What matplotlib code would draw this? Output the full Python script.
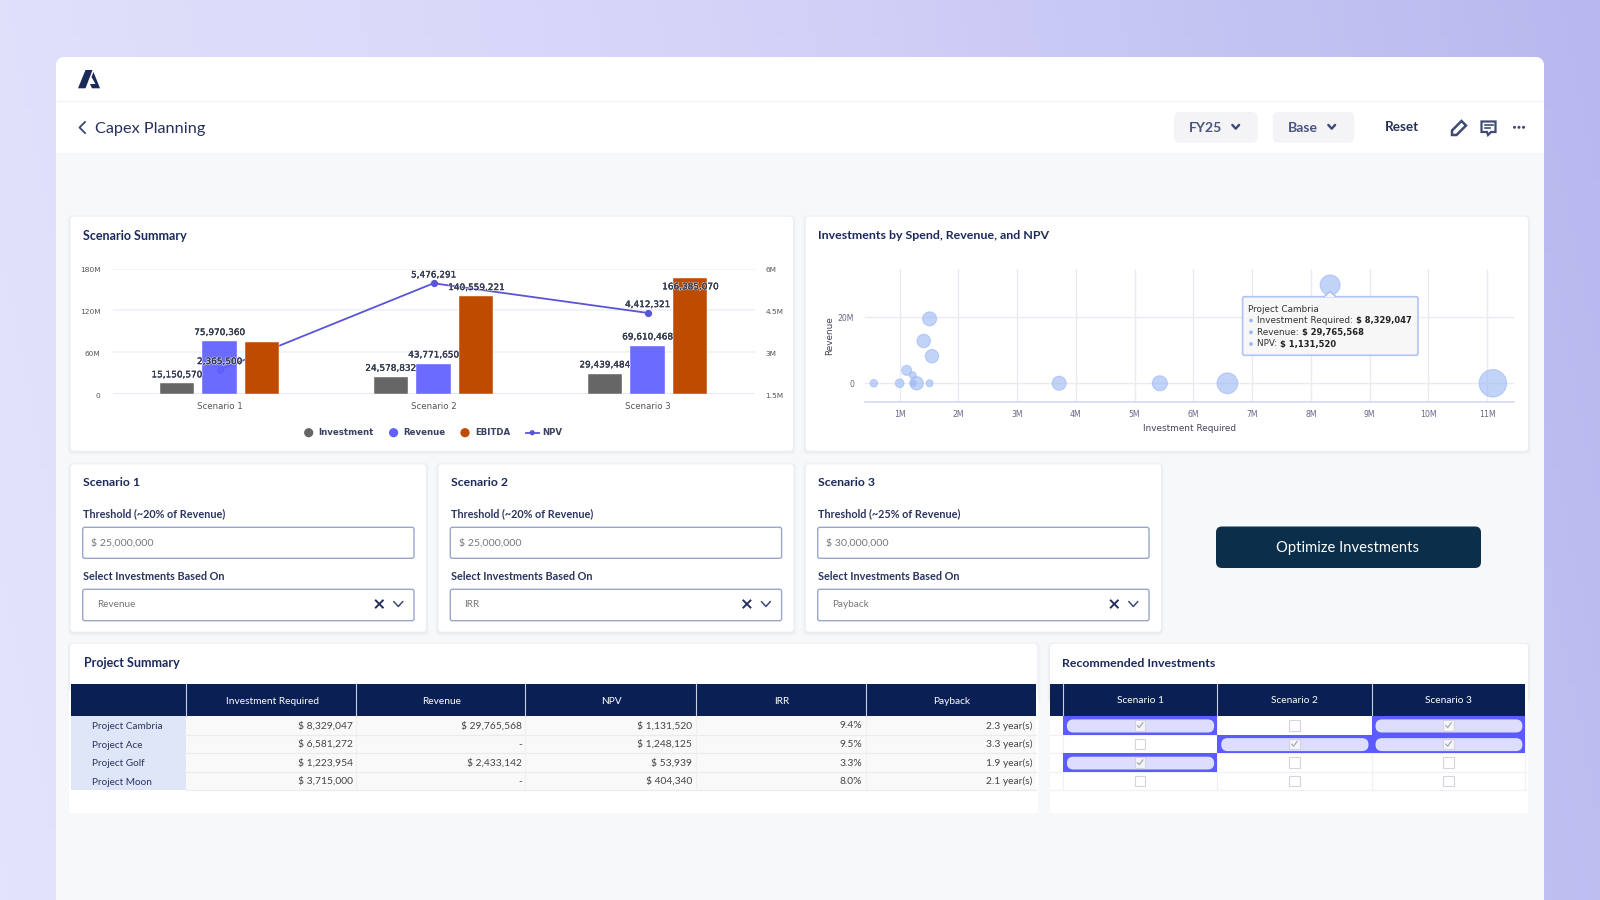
import numpy as np
import matplotlib
matplotlib.use('Agg')
import matplotlib.pyplot as plt
import matplotlib.patheffects as pe
from matplotlib.patches import FancyBboxPatch, Rectangle, Polygon, Circle
from matplotlib.colors import LinearSegmentedColormap
from matplotlib.transforms import ScaledTranslation

########################### Data ###############################

scenarios     = ['Scenario 1', 'Scenario 2', 'Scenario 3']
investment    = [15150570, 24578832, 29439484]
revenue       = [75970360, 43771650, 69610468]
ebitda        = [74000000, 140559221, 166385070]
npv           = [2365500, 5476291, 4412321]

left_ticks    = [0, 60e6, 120e6, 180e6]
left_labels   = ['0', '60M', '120M', '180M']
right_ticks   = [1.5e6, 3e6, 4.5e6, 6e6]
right_labels  = ['1.5M', '3M', '4.5M', '6M']

bubble_x      = [0.56e6, 1.0e6, 1.223954e6, 1.23e6, 1.29e6, 1.51e6, 1.12e6, 1.55e6, 1.41e6, 1.51e6,
                 3.715e6, 5.43e6, 6.581272e6, 11.1e6, 8.329047e6]
bubble_y      = [0, 0, 2433142, 0, 0, 0, 3.9e6, 8.2e6, 12.8e6, 19.5e6, 0, 0, 0, 0, 29765568]
bubble_npv    = [61000, 88000, 53939, 50000, 355000, 55000, 139000, 355000, 355000, 404000,
                 404340, 501000, 1248125, 2600000, 1131520]
x_ticks       = [i*1e6 for i in range(1, 12)]
x_labels      = ['%dM' % i for i in range(1, 12)]

tooltip_lines = ['Investment Required: ', 'Revenue: ', 'NPV: ']
tooltip_vals  = ['$ 8,329,047', '$ 29,765,568', '$ 1,131,520']

card_titles   = ['Scenario 1', 'Scenario 2', 'Scenario 3']
thresholds    = ['Threshold (~20% of Revenue)', 'Threshold (~20% of Revenue)', 'Threshold (~25% of Revenue)']
amounts       = ['$ 25,000,000', '$ 25,000,000', '$ 30,000,000']
based_on      = ['Revenue', 'IRR', 'Payback']

table_cols    = ['Investment Required', 'Revenue', 'NPV', 'IRR', 'Payback']
projects      = ['Project Cambria', 'Project Ace', 'Project Golf', 'Project Moon']
col_invest    = ['$ 8,329,047', '$ 6,581,272', '$ 1,223,954', '$ 3,715,000']
col_revenue   = ['$ 29,765,568', '-', '$ 2,433,142', '-']
col_npv       = ['$ 1,131,520', '$ 1,248,125', '$ 53,939', '$ 404,340']
col_irr       = ['9.4%', '9.5%', '3.3%', '8.0%']
col_payback   = ['2.3 year(s)', '3.3 year(s)', '1.9 year(s)', '2.1 year(s)']
recommended   = [[1, 0, 1], [0, 1, 1], [1, 0, 0], [0, 0, 0]]

########################### Style ###############################

navy    = '#1B2A5B'
grey    = '#666666'
blue    = '#6060FF'
orange  = '#BF4B00'
violet  = '#5A55D6'
dark    = '#0A1F54'
ui_font = 'Lato'
px      = 0.72   # one pixel in points at dpi=100

plt.rcParams['font.family'] = [ui_font, 'DejaVu Sans']

fig = plt.figure(figsize=(16, 9), dpi=100)


def pixel_axes(x0, y0, x1, y1, zorder):
    return fig.add_axes([x0/1600, 1-y1/900, (x1-x0)/1600, (y1-y0)/900], zorder=zorder)


def rrect(ax, x0, y0, x1, y1, r, fc, ec='none', lw=0, zorder=2, alpha=None):
    p = FancyBboxPatch((x0+r, y0+r), x1-x0-2*r, y1-y0-2*r, boxstyle='round,pad=%g,rounding_size=%g' % (r, r),
                       fc=fc, ec=ec, lw=lw, zorder=zorder, alpha=alpha)
    ax.add_patch(p)
    return p


def txt(ax, x, y, s, size, color=navy, ha='left', weight='normal', family=None, zorder=6, **kw):
    return ax.text(x, y, s, fontsize=size*px, color=color, ha=ha, va='center', fontweight=weight,
                   family=family or ui_font, zorder=zorder, **kw)


def chevron(ax, x, y, w, h, color, lw=1.6):
    ax.plot([x-w, x, x+w], [y-h, y+h, y-h], color=color, lw=lw, zorder=6, solid_capstyle='round', solid_joinstyle='round')


def card(ax, x0, y0, x1, y1):
    for grow, a in [(3, 0.012), (2, 0.015), (1, 0.02)]:
        rrect(ax, x0-grow, y0-grow+1, x1+grow, y1+grow+1, 4, '#1B2A5B', alpha=a, zorder=1.5)
    rrect(ax, x0, y0, x1, y1, 3, 'white', zorder=2)


def nudge(labels, dy_px):
    # move tick labels down a little, they do not sit centred on the grid lines
    shift = ScaledTranslation(0, -dy_px/100, fig.dpi_scale_trans)
    for lab in labels:
        lab.set_transform(lab.get_transform()+shift)


########################### Page ###############################

bg = pixel_axes(0, 0, 1600, 900, 0)
bg.set_xlim(0, 1600)
bg.set_ylim(900, 0)
bg.axis('off')

cmap = LinearSegmentedColormap.from_list('page', ['#E3E3FC', '#D4D4F9', '#B8B8EF'])
gx, gy = np.meshgrid(np.linspace(0, 1, 200), np.linspace(0, 1, 100))
bg.imshow(0.9*gx+0.1*(1-gy), extent=(0, 1600, 900, 0), cmap=cmap, aspect='auto', zorder=0)
bg.set_xlim(0, 1600)
bg.set_ylim(900, 0)

rrect(bg, 56, 57, 1544, 930, 9, '#F7F8FA', zorder=1)
rrect(bg, 56, 57, 1544, 160, 9, 'white', zorder=1.1)
bg.add_patch(Rectangle((56, 153), 1488, 12, fc='#F7F8FA', ec='none', zorder=1.2))
bg.plot([56.5, 1543], [100.7, 100.7], color='#F2F3F6', lw=1, zorder=1.3, solid_capstyle='butt')

# logo
bg.add_patch(Polygon([(78, 88.3), (85.5, 70), (92.5, 70), (85.5, 88.3)], fc=navy, ec='none', zorder=5))
bg.add_patch(Polygon([(93.5, 72), (100, 88.3), (92, 88.3), (90, 84), (95.5, 84), (91.5, 77)], fc=navy, ec='none', zorder=5))

# header
bg.plot([85, 79.5, 85], [122, 127.5, 133], color='#3B4670', lw=1.3, zorder=6)
txt(bg, 95, 129.5, 'Capex Planning', 16.3, color='#27305A')
rrect(bg, 1174, 112, 1257.7, 142.7, 6, '#F4F4F7')
rrect(bg, 1272.7, 112, 1354.3, 142.7, 6, '#F4F4F7')
txt(bg, 1189, 127.8, 'FY25', 14, color='#4A5480', weight='bold')
txt(bg, 1288, 127.8, 'Base', 14, color='#4A5480', weight='bold')
chevron(bg, 1235.7, 126.8, 3.4, 1.9, '#3F4A75', 1.7)
chevron(bg, 1331.7, 126.8, 3.4, 1.9, '#3F4A75', 1.7)
txt(bg, 1385, 127, 'Reset', 13.5, color='#27305A', weight='bold')

# pencil, comment and dots
bg.add_patch(Polygon([(1452, 135), (1452, 130.5), (1461.5, 121), (1466, 125.5), (1456.5, 135)],
                     fc='white', ec='#3F4A75', lw=1.8, zorder=6))
bg.add_patch(Polygon([(1481.5, 121.5), (1495.5, 121.5), (1495.5, 132), (1491, 132), (1488, 135), (1487, 132), (1481.5, 132)],
                     fc='white', ec='#3F4A75', lw=1.6, zorder=6))
bg.plot([1484.5, 1492.5], [125, 125], color='#3F4A75', lw=1.2, zorder=7)
bg.plot([1484.5, 1490], [128.3, 128.3], color='#3F4A75', lw=1.2, zorder=7)
for dx in [1514.5, 1519, 1523.5]:
    bg.add_patch(Circle((dx, 127.3), 1.5, fc='#3F4A75', ec='none', zorder=6))

########################### Scenario Summary ###############################

card(bg, 70.5, 216.7, 793, 450.7)
txt(bg, 83, 235.5, 'Scenario Summary', 12.5, weight='bold')

ax_line = pixel_axes(112.5, 268.7, 754.5, 394, 2)
ax_bar = ax_line.twinx()
ax_bar.set_zorder(3)
ax_line.set_zorder(2)
ax_bar.patch.set_visible(False)

pos = np.arange(len(scenarios))
ax_bar.bar(pos-0.2, investment, 0.159, color=grey, ec='white', lw=0.3)
ax_bar.bar(pos, revenue, 0.159, color=blue, ec='white', lw=0.3, alpha=0.93)
ax_bar.bar(pos+0.2, ebitda, 0.159, color=orange, ec='white', lw=0.3)
ax_line.plot(pos, npv, '-o', color=violet, lw=1.3, ms=4.2)

ax_bar.set_xlim(-0.5, 2.5)
ax_bar.set_ylim(0, 180e6)
ax_line.set_ylim(1.5e6, 6e6)

# the bars carry the left scale and the line the right one, so swap the sides
ax_bar.yaxis.tick_left()
ax_line.yaxis.tick_right()
ax_bar.set_yticks(left_ticks, left_labels)
ax_line.set_yticks(right_ticks, right_labels)
ax_line.set_xticks(pos, scenarios)
ax_bar.tick_params(axis='y', length=0, labelsize=5.3, labelcolor='#555555', pad=8.5, labelfontfamily='DejaVu Sans')
ax_line.tick_params(axis='y', length=0, labelsize=5.3, labelcolor='#555555', pad=8, labelfontfamily='DejaVu Sans')
ax_line.tick_params(axis='x', length=0, labelsize=6.2, labelcolor='#555555', pad=5.4, labelfontfamily='DejaVu Sans')
ax_bar.tick_params(axis='x', length=0, labelbottom=False)
nudge(ax_bar.get_yticklabels(), 1.2)
nudge(ax_line.get_yticklabels(), 1.2)
ax_line.grid(False)
for t in left_ticks:
    ax_line.axhline(1.5e6 + t/180e6*4.5e6, color='#EEF0F6' if t else '#DCE4F5', lw=1.1, zorder=0)
for a in (ax_line, ax_bar):
    for s in a.spines.values():
        s.set_visible(False)

label_color = '#3A4054'
outline = [pe.withStroke(linewidth=1.1, foreground='white', alpha=0.75),
           pe.Stroke(linewidth=0.1, foreground=label_color), pe.Normal()]
label_style = dict(textcoords='offset points', ha='center', va='center', fontsize=6.4, color=label_color,
                   family='DejaVu Sans', path_effects=outline, zorder=10)
for p, v in zip(pos, investment):
    ax_bar.annotate(format(v, ','), (p-0.2, v), xytext=(0, 6.2), **label_style)
for p, v in zip(pos, revenue):
    ax_bar.annotate(format(v, ','), (p, v), xytext=(0, 6.2), **label_style)
# the first EBITDA label does not show in the chart, the last one falls inside its bar
ax_bar.annotate(format(ebitda[1], ','), (pos[1]+0.2, ebitda[1]), xytext=(0, 6.2), **label_style)
ax_bar.annotate(format(ebitda[2], ','), (pos[2]+0.2, ebitda[2]), xytext=(0, -6.2), **label_style)
for p, v in zip(pos, npv):
    ax_bar.annotate(format(v, ','), (p, v), xycoords=ax_line.transData, xytext=(0, 6), **label_style)

# legend
leg_y = 432.7
for cx, color in [(308.7, grey), (393.6, blue), (465, orange)]:
    bg.add_patch(Circle((cx, leg_y), 4.6, fc=color, ec='none', zorder=6))
bg.plot([526, 538.5], [leg_y, leg_y], color=violet, lw=1.3, zorder=6)
bg.add_patch(Circle((532.2, leg_y), 2.6, fc=violet, ec='none', zorder=6))
for lx, name in [(318.6, 'Investment'), (403.5, 'Revenue'), (475, 'EBITDA'), (542, 'NPV')]:
    txt(bg, lx, leg_y, name, 8.7, color='#3A4260', family='DejaVu Sans', weight='bold')

########################### Bubble chart ###############################

card(bg, 805.7, 216.7, 1528, 450.7)
txt(bg, 818, 235.5, 'Investments by Spend, Revenue, and NPV', 12.4, weight='bold')

ax_sc = pixel_axes(865, 269.3, 1514, 402.3, 2)
radii = 3 + 0.0067*np.sqrt(np.maximum(np.array(bubble_npv)-50000, 0))
ax_sc.scatter(bubble_x, bubble_y, s=(2*radii*px)**2, color='#9DB8F5', alpha=0.62, ec='#9DB8F5', lw=0.8, zorder=3, clip_on=False)
ax_sc.set_xlim(0.41e6, 11.46e6)
ax_sc.set_ylim(-5.76e6, 34.5e6)
ax_sc.set_xticks(x_ticks, x_labels)
ax_sc.set_yticks([0, 20e6], ['0', '20M'])
ax_sc.tick_params(axis='both', length=0, labelsize=5.6, labelcolor='#666688', labelfontfamily='DejaVu Sans')
ax_sc.tick_params(axis='x', pad=5.4)
ax_sc.tick_params(axis='y', pad=8)
ax_sc.grid(True, color='#E9EBF1', lw=1, zorder=0)
ax_sc.set_axisbelow(True)
for name, s in ax_sc.spines.items():
    s.set_visible(name == 'bottom')
ax_sc.spines['bottom'].set_color('#CBD7F4')
ax_sc.spines['bottom'].set_linewidth(1.1)
ax_sc.patch.set_visible(False)
ax_sc.set_xlabel('Investment Required', fontsize=6.4, color='#444455', family='DejaVu Sans', labelpad=3.4)
ax_sc.set_ylabel('Revenue', fontsize=6.4, color='#444455', family='DejaVu Sans', labelpad=2.4)

########################### Scenario cards ###############################

card_left = [70.7, 438.3, 805.7]
for x0, title, label, amount, choice in zip(card_left, card_titles, thresholds, amounts, based_on):
    card(bg, x0, 464.3, x0+355.3, 631.7)
    txt(bg, x0+12.5, 482.3, title, 12.2, weight='bold')
    txt(bg, x0+12.5, 513.6, label, 10.9, weight='bold', color='#2B3560')
    rrect(bg, x0+12, 527.3, x0+343.3, 558.3, 2, 'white', ec='#9AA6CC', lw=1)
    txt(bg, x0+20.5, 542.8, amount, 10.5, color='#777777')
    txt(bg, x0+12.5, 576, 'Select Investments Based On', 10.9, weight='bold', color='#2B3560')
    rrect(bg, x0+12, 589.3, x0+343.3, 620.7, 2, 'white', ec='#9AA6CC', lw=1)
    txt(bg, x0+26, 604.8, choice, 10, color='#777777')
    cx = x0+308.6
    bg.plot([cx-3.5, cx+3.5], [600.5, 607.5], color='#27305A', lw=1.4, zorder=6)
    bg.plot([cx-3.5, cx+3.5], [607.5, 600.5], color='#27305A', lw=1.4, zorder=6)
    chevron(bg, x0+327.6, 604, 4.5, 2.5, '#3F4A75', 1.1)

rrect(bg, 1216, 526.5, 1481, 568, 6, '#0B2F4A')
txt(bg, 1347.5, 547.8, 'Optimize Investments', 14.8, color='white', ha='center')

########################### Project Summary ###############################

card(bg, 70, 644, 1037.4, 700)
bg.add_patch(Rectangle((69.4, 690), 968.5, 123.3, fc='white', ec='none', zorder=2))
txt(bg, 83.5, 662.7, 'Project Summary', 12.5, weight='bold')

col_edges = [71.3, 186, 356, 525.3, 695.7, 865.6, 1035.5]
row_edges = [716, 734.7, 753.3, 771.7, 789.7]

bg.add_patch(Rectangle((71.3, 684), 964.2, 32, fc=dark, ec='none', zorder=3))
for xe in col_edges[1:-1]:
    bg.plot([xe, xe], [684, 716], color='#C9CFE2', lw=0.8, zorder=4)
for i, name in enumerate(table_cols):
    txt(bg, (col_edges[i+1]+col_edges[i+2])/2+1, 701, name, 10.1, color='white', ha='center')

bg.add_patch(Rectangle((71.3, 716), 114.7, 73.7, fc='#DFE6F8', ec='none', zorder=3))
bg.add_patch(Rectangle((186, 716), 849.5, 73.7, fc='#F9F9F9', ec='none', zorder=3))
for ye in row_edges[1:]:
    bg.plot([186, 1035.5], [ye, ye], color='#EAEBEE', lw=0.9, zorder=4)
for xe in col_edges[2:-1]:
    bg.plot([xe, xe], [716, 789.7], color='#F0F0F2', lw=0.8, zorder=4)

columns = [col_invest, col_revenue, col_npv, col_irr, col_payback]
for r, name in enumerate(projects):
    yc = (row_edges[r]+row_edges[r+1])/2
    txt(bg, 92, yc+1.5, name, 10, color='#2B3560')
    for c, values in enumerate(columns):
        txt(bg, col_edges[c+2]-3.4, yc+0.5, values[r], 10.2, color='#444444', ha='right')

########################### Recommended Investments ###############################

card(bg, 1050, 644, 1528, 700)
bg.add_patch(Rectangle((1050, 690), 478, 123.3, fc='white', ec='none', zorder=2))
txt(bg, 1062.5, 663.3, 'Recommended Investments', 12.4, weight='bold')

rec_edges = [1062.9, 1217.2, 1371.5, 1525.4]
bg.add_patch(Rectangle((1050, 684), 475.4, 32, fc=dark, ec='none', zorder=3))
for xe in rec_edges[:-1]:
    bg.plot([xe, xe], [684, 716], color='#C9CFE2', lw=0.8, zorder=4)
for i, name in enumerate(scenarios):
    txt(bg, (rec_edges[i]+rec_edges[i+1])/2, 700.5, name, 10.1, color='white', ha='center')

for ye in row_edges[1:]:
    bg.plot([1050, 1525.4], [ye, ye], color='#F0F1F7', lw=0.9, zorder=3)
for xe in rec_edges:
    bg.plot([xe, xe], [716, 789.7], color='#F0F1F7', lw=0.9, zorder=3)

for r, flags in enumerate(recommended):
    yc = (row_edges[r]+row_edges[r+1])/2
    for c, flag in enumerate(flags):
        x0, x1 = rec_edges[c], rec_edges[c+1]
        xc = (x0+x1)/2
        if flag:
            bg.add_patch(Rectangle((x0, row_edges[r]), x1-x0, row_edges[r+1]-row_edges[r], fc='#5B5BFF', ec='none', zorder=4))
            rrect(bg, x0+4, row_edges[r]+3.4, x1-3, row_edges[r+1]-2.2, 6.5, '#DDDDFD', zorder=5)
        bg.add_patch(Rectangle((xc-5.2, yc-5.2), 10.4, 10.4, fc='#F4F4FB' if flag else 'white', ec='#D4D5DC', lw=0.8, zorder=6))
        if flag:
            bg.plot([xc-2.6, xc-0.8, xc+2.8], [yc+0.2, yc+2.2, yc-2.6], color='#A8A8B4', lw=0.9, zorder=7)

########################### Tooltip ###############################

top = pixel_axes(0, 0, 1600, 900, 8)
top.set_xlim(0, 1600)
top.set_ylim(900, 0)
top.axis('off')
top.patch.set_visible(False)

rrect(top, 1242.6, 296.7, 1418, 355.3, 2, '#F7F7F7', ec='#A9C0F5', lw=1.2, alpha=0.93)
top.add_patch(Polygon([(1324, 297.2), (1330, 291.5), (1336, 297.2)], fc='#F7F7F7', ec='none', zorder=4))
top.plot([1324, 1330, 1336], [296.7, 291.5, 296.7], color='#A9C0F5', lw=1.1, zorder=4)
txt(top, 1248, 309, 'Project Cambria', 8.9, color='#333333', family='DejaVu Sans')
for yl, label, value in zip([320.5, 332.3, 344], tooltip_lines, tooltip_vals):
    top.add_patch(Circle((1251, yl), 1.9, fc='#9DB8F5', ec='none', zorder=6))
    t1 = txt(top, 1257, yl, label, 8.9, color='#333333', family='DejaVu Sans')
    fig.canvas.draw()
    w = t1.get_window_extent().width
    txt(top, 1257+w+0.5, yl, value, 8.4, color='#222222', family='DejaVu Sans', weight='bold')

plt.savefig('out.png', dpi=100)
